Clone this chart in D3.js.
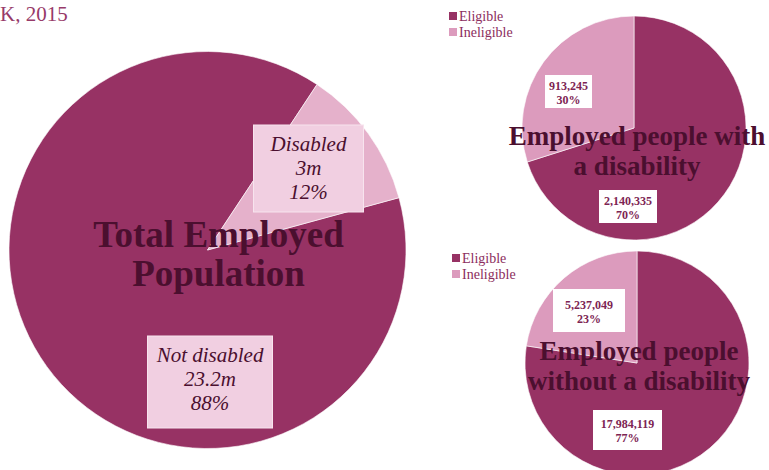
<!DOCTYPE html>
<html>
<head>
<meta charset="utf-8">
<script src="https://cdn.jsdelivr.net/npm/d3@7"></script>
<style>
  body { margin: 0; background: #fff; }
  svg { display: block; font-family: 'Liberation Serif', 'DejaVu Serif', serif; }
</style>
</head>
<body>
<svg id="chart" width="769" height="470"></svg>
<script>
// data
const totalCategories = ['Not disabled', 'Disabled']
const totalValues = [23.2, 3]
const totalLabels = ['23.2m', '3m']
const totalShares = ['88%', '12%']

const eligibility = ['Eligible', 'Ineligible']
const disabledValues = [2140335, 913245]
const disabledShares = ['70%', '30%']
const notDisabledValues = [17984119, 5237049]
const notDisabledShares = ['77%', '23%']

const dark = '#973264'
const textDark = '#4b0f2f'

const svg = d3.select('#chart')

svg.append('text')
	.attr('x', 0).attr('y', 21)
	.style('font-size', '21px')
	.style('fill', '#973a69')
	.text('K, 2015')

// big pie
const big = svg.append('g').attr('transform', 'translate(207.5, 250)')
const bigColor = d3.scaleOrdinal().domain(totalCategories).range([dark, '#e5b1cb'])
const bigPie = d3.pie().sort(null)
	.startAngle(1.304).endAngle(1.304 + 2 * Math.PI)
const bigArc = d3.arc().innerRadius(0).outerRadius(198.5)
const bigData = bigPie(totalValues)

big.selectAll('path').data(bigData).enter().append('path')
	.attr('d', bigArc)
	.style('fill', (d, i) => bigColor(totalCategories[i]))
	.style('stroke', '#fff')
	.style('stroke-width', 0.6)

// label boxes of the big pie
const bigBoxes = [
	{ x: -60, y: 86, w: 125, h: 92 },
	{ x: 46, y: -125, w: 110, h: 87 }
]
bigData.forEach((d, i) => {
	const b = bigBoxes[i]
	const g = big.append('g')
	g.append('rect')
		.attr('x', b.x).attr('y', b.y).attr('width', b.w).attr('height', b.h)
		.style('fill', '#f1cfe1').style('stroke', '#f7e4ee').style('stroke-width', 1)
	const lines = [totalCategories[i], totalLabels[i], totalShares[i]]
	lines.forEach((t, j) => {
		g.append('text')
			.attr('x', b.x + b.w / 2)
			.attr('y', b.y + 26 + j * 24)
			.attr('text-anchor', 'middle')
			.style('font-style', 'italic')
			.style('font-size', '21px')
			.style('fill', textDark)
			.text(t)
	})
})

big.selectAll('.title').data(['Total Employed', 'Population']).enter().append('text')
	.attr('class', 'title')
	.attr('x', 11)
	.attr('y', (d, i) => -3 + i * 39)
	.attr('text-anchor', 'middle')
	.style('font-weight', 'bold')
	.style('font-size', '37px')
	.style('fill', textDark)
	.text(d => d)

// small pies
const smallColor = d3.scaleOrdinal().domain(eligibility).range([dark, '#dc9bbd'])
const smallArc = d3.arc().innerRadius(0).outerRadius(112)
const fmt = d3.format(',')

function smallPie(cx, cy, values, shares, titleLines, titleDx, titleDy, boxes, legendX, legendY) {
	const g = svg.append('g').attr('transform', `translate(${cx}, ${cy})`)
	const arcs = d3.pie().sort(null)(values)
	g.selectAll('path').data(arcs).enter().append('path')
		.attr('d', smallArc)
		.style('fill', (d, i) => smallColor(eligibility[i]))
		.style('stroke', '#fff')
		.style('stroke-width', 0.6)

	arcs.forEach((d, i) => {
		const b = boxes[i]
		g.append('rect')
			.attr('x', b.x).attr('y', b.y).attr('width', b.w).attr('height', b.h)
			.style('fill', '#fff')
		g.append('text')
			.attr('x', b.x + b.w / 2).attr('y', b.y + b.h / 2 - 2)
			.attr('text-anchor', 'middle')
			.style('font-weight', 'bold').style('font-size', '12px')
			.style('fill', '#7d2453')
			.text(fmt(values[i]))
		g.append('text')
			.attr('x', b.x + b.w / 2).attr('y', b.y + b.h / 2 + 12)
			.attr('text-anchor', 'middle')
			.style('font-weight', 'bold').style('font-size', '12px')
			.style('fill', '#7d2453')
			.text(shares[i])
	})

	g.selectAll('.title').data(titleLines).enter().append('text')
		.attr('class', 'title')
		.attr('x', titleDx)
		.attr('y', (d, i) => titleDy + i * 30)
		.attr('text-anchor', 'middle')
		.style('font-weight', 'bold')
		.style('font-size', '27px')
		.style('fill', textDark)
		.text(d => d)

	const legend = svg.append('g').attr('transform', `translate(${legendX}, ${legendY})`)
	eligibility.forEach((e, i) => {
		legend.append('rect')
			.attr('x', 0).attr('y', i * 16).attr('width', 8).attr('height', 8)
			.style('fill', smallColor(e))
		legend.append('text')
			.attr('x', 10).attr('y', i * 16 + 9)
			.style('font-size', '14px')
			.style('fill', '#8c2d5d')
			.text(e)
	})
}

smallPie(634, 128, disabledValues, disabledShares,
	['Employed people with', 'a disability'], 3, 17,
	[{ x: -35, y: 62, w: 58, h: 33 }, { x: -89, y: -53, w: 47, h: 33 }],
	449, 12)

smallPie(637, 363, notDisabledValues, notDisabledShares,
	['Employed people', 'without a disability'], 2, -3,
	[{ x: -44, y: 47, w: 69, h: 40 }, { x: -84, y: -74, w: 72, h: 43 }],
	452, 254)
</script>
</body>
</html>
